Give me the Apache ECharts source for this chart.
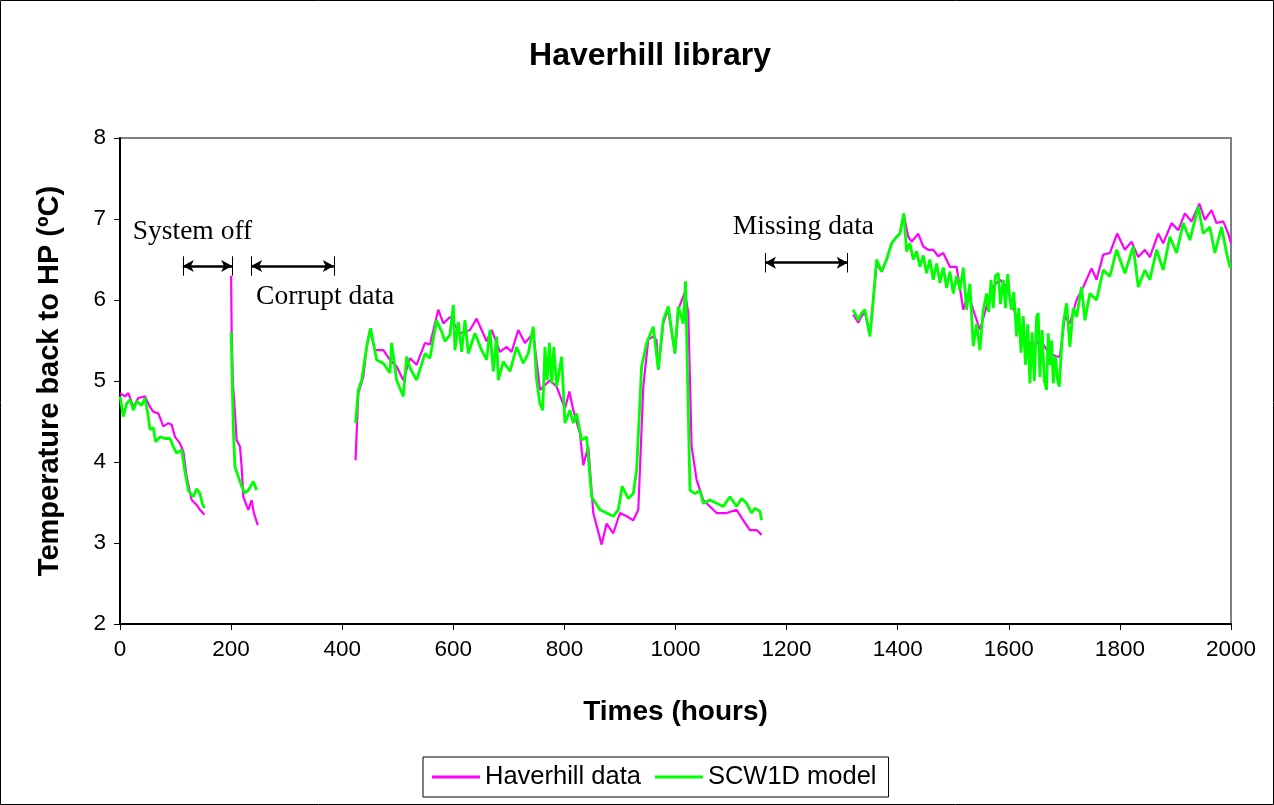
<!DOCTYPE html>
<html><head><meta charset="utf-8">
<script src="https://cdn.jsdelivr.net/npm/echarts@6/dist/echarts.min.js"></script>
<style>html,body{margin:0;padding:0;background:#fff}#c{width:1274px;height:805px}</style>
</head><body><div id="c"></div>
<script>
// ---- data ----
const xTicks = [0,200,400,600,800,1000,1200,1400,1600,1800,2000];
const yTicks = [2,3,4,5,6,7,8];

// Haverhill measured data (hours, °C); null = gap
const dataHours = [0,9,15,24,33,45,54,60,69,78,87,93,99,108,114,120,129,138,144,152,
 175,
 200,201,203,207,210,216,219,222,231,237,241,248,
 330,
 424,429,438,444,450,459,474,486,498,510,522,534,549,558,573,582,594,612,630,642,660,669,684,696,705,717,729,744,756,774,786,801,809,816,828,834,843,852,867,876,888,900,912,924,933,942,951,960,966,969,978,987,999,1005,1017,1023,1029,1038,1050,1062,1074,1092,1110,1122,1134,1146,1155,
 1240,
 1320,1329,1335,1341,1350,1356,1362,1371,1380,1389,1398,1404,1411,1419,1425,1437,1446,1455,1464,1473,1482,1494,1506,1518,1527,1536,1548,1560,1572,1584,1596,1608,1620,1632,1644,1656,1672,1686,1692,1701,1710,1722,1734,1749,1758,1770,1782,1795,1809,1821,1833,1845,1854,1869,1878,1893,1905,1917,1929,1943,1953,1965,1974,1986,1995,2000];
const dataTemps = [4.85,4.81,4.85,4.68,4.79,4.81,4.68,4.62,4.60,4.44,4.48,4.46,4.31,4.23,4.13,3.82,3.53,3.47,3.41,3.35,
 null,
 6.30,5.60,5.00,4.60,4.27,4.19,3.94,3.57,3.41,3.53,3.37,3.22,
 null,
 4.02,4.85,5.05,5.42,5.63,5.38,5.38,5.26,5.18,5.01,5.28,5.20,5.47,5.45,5.88,5.71,5.79,5.59,5.63,5.77,5.49,5.63,5.36,5.42,5.36,5.63,5.47,5.59,4.89,5.01,4.93,4.66,4.87,4.64,4.35,3.96,4.19,3.37,2.98,3.24,3.12,3.37,3.33,3.28,3.41,4.93,5.51,5.55,5.50,5.14,5.72,5.88,5.34,5.88,6.10,5.84,4.19,3.78,3.53,3.45,3.37,3.37,3.41,3.28,3.16,3.16,3.10,
 null,
 5.82,5.72,5.80,5.85,5.58,6.00,6.45,6.35,6.50,6.70,6.78,6.82,7.05,6.78,6.72,6.82,6.66,6.62,6.62,6.54,6.58,6.41,6.41,5.88,6.08,5.88,5.63,5.92,6.17,6.25,6.17,5.92,5.63,5.51,5.42,5.51,5.35,5.30,5.30,5.80,5.71,6.00,6.16,6.39,6.25,6.56,6.58,6.82,6.62,6.72,6.53,6.62,6.53,6.82,6.70,6.95,6.86,7.07,6.97,7.19,6.99,7.11,6.95,6.97,6.82,6.70];

// SCW1D model (hours, °C); null = gap
const modelHours = [0,6,12,18,24,30,39,45,50,54,60,64,72,81,90,96,102,111,117,123,132,138,144,148,152,
 175,
 200,201,204,207,213,219,225,231,240,246,
 330,
 424,429,435,444,451,462,474,486,489,498,510,516,522,534,549,558,570,579,585,594,600,603,609,615,621,627,639,651,660,666,672,678,681,690,702,714,726,735,744,750,756,761,765,769,773,777,781,786,795,801,810,816,822,831,840,849,864,876,888,897,904,915,924,930,939,948,960,969,978,987,999,1005,1014,1018,1026,1035,1044,1050,1062,1074,1086,1098,1110,1119,1128,1137,1143,1152,1155,
 1240,
 1320,1329,1335,1341,1350,1356,1362,1371,1380,1389,1398,1404,1411,1416,1422,1428,1434,1440,1446,1452,1458,1464,1470,1476,1482,1488,1494,1500,1506,1512,1518,1524,1530,1536,1542,1548,1554,1560,1564,1568,1572,1576,1581,1585,1590,1594,1598,1602,1605,1609,1614,1618,1622,1626,1630,1634,1638,1642,1646,1650,1653,1656,1660,1664,1668,1671,1674,1677,1680,1684,1688,1691,1695,1698,1704,1710,1716,1722,1731,1737,1746,1758,1770,1782,1794,1809,1824,1833,1845,1854,1866,1878,1890,1902,1914,1926,1941,1950,1962,1971,1983,1992,1998,2000];
const modelTemps = [4.81,4.56,4.72,4.77,4.64,4.75,4.70,4.79,4.60,4.40,4.42,4.25,4.31,4.29,4.29,4.19,4.11,4.15,3.88,3.65,3.57,3.67,3.61,3.49,3.43,
 null,
 5.60,5.59,4.40,3.94,3.82,3.70,3.62,3.65,3.76,3.65,
 null,
 4.48,4.89,5.01,5.42,5.65,5.26,5.22,5.10,5.47,5.01,4.81,5.30,5.16,5.01,5.34,5.28,5.75,5.61,5.49,5.57,5.94,5.38,5.73,5.36,5.75,5.34,5.59,5.38,5.26,5.63,5.12,5.55,5.01,5.24,5.12,5.42,5.22,5.34,5.67,5.01,4.72,4.64,5.42,5.01,5.47,4.97,5.42,4.93,5.30,4.48,4.64,4.48,4.60,4.27,4.31,3.57,3.41,3.37,3.33,3.41,3.70,3.55,3.61,3.90,5.18,5.47,5.67,5.14,5.75,5.92,5.34,5.92,5.71,6.23,3.65,3.61,3.65,3.49,3.53,3.49,3.45,3.57,3.45,3.55,3.49,3.37,3.43,3.39,3.28,
 null,
 5.88,5.75,5.84,5.88,5.55,6.00,6.50,6.35,6.50,6.70,6.78,6.82,7.07,6.60,6.70,6.50,6.60,6.41,6.55,6.33,6.50,6.25,6.45,6.21,6.40,6.15,6.35,6.08,6.30,6.12,6.40,5.88,6.20,5.43,5.70,5.38,5.88,6.08,5.85,6.25,5.90,6.30,6.33,5.95,6.25,5.90,6.32,6.00,5.88,6.10,5.55,5.90,5.35,5.80,5.20,5.70,4.97,5.60,5.00,5.79,5.84,5.05,5.63,5.00,4.89,5.59,5.20,5.50,4.97,5.30,5.00,4.93,5.42,5.71,5.96,5.42,5.90,5.79,6.16,5.75,6.08,6.00,6.37,6.29,6.62,6.33,6.66,6.16,6.37,6.25,6.62,6.37,6.78,6.58,6.95,6.74,7.15,6.82,6.90,6.58,6.90,6.58,6.41,6.40];

// annotations (hours, °C)
const noteTexts = ['System off','Corrupt data','Missing data'];
const noteHours = [23,245,1103];
const noteTemps = [6.84,6.04,6.91];
const spanStart = [113,236,1161];
const spanEnd = [202,385,1310];
const spanTemp = [6.42,6.42,6.46];

// ---- chart ----
const pairs = (xs, ys) => xs.map((x,i)=>[x, ys[i]]);
const chart = echarts.init(document.getElementById('c'), null, {renderer:'canvas'});
const arrowData = spanStart.map((s,i)=>[{coord:[s,spanTemp[i]]},{coord:[spanEnd[i],spanTemp[i]]}]);
const tickData = [];
spanStart.forEach((s,i)=>{
  [s, spanEnd[i]].forEach(h=>{
    tickData.push([{coord:[h,spanTemp[i]+0.12]},{coord:[h,spanTemp[i]-0.12]}]);
  });
});
const labelFont = 'Arial, "Liberation Sans", sans-serif';
chart.setOption({
  animation:false,
  title:{text:'Haverhill library', left:645, top:35, textAlign:'center',
    textStyle:{fontFamily:labelFont, fontWeight:'bold', fontSize:32, color:'#000'}},
  graphic:[{type:'rect', shape:{x:0.5,y:0.5,width:1273,height:804}, style:{fill:'none',stroke:'#000',lineWidth:1}, silent:true}],
  legend:{left:423, top:757, orient:'horizontal', data:['Haverhill data','SCW1D model'],
    icon:'rect', itemWidth:48, itemHeight:3, itemGap:14,
    borderColor:'#000', borderWidth:1, padding:[7,12,7,9],
    textStyle:{fontFamily:labelFont, fontSize:25.5, color:'#000'}},
  grid:{left:120, right:43, top:138, bottom:181, show:true, borderColor:'#808080', borderWidth:2, backgroundColor:'#fff'},
  xAxis:{type:'value', min:0, max:2000, interval:200,
    name:'Times (hours)', nameLocation:'middle', nameGap:74,
    nameTextStyle:{fontFamily:labelFont, fontWeight:'bold', fontSize:28, color:'#000'},
    axisLine:{lineStyle:{color:'#000', width:2}},
    axisTick:{inside:false, length:6, lineStyle:{color:'#000'}},
    axisLabel:{fontFamily:labelFont, fontSize:22.5, color:'#000', margin:14, formatter:v=>String(v)},
    splitLine:{show:false}},
  yAxis:{type:'value', min:2, max:8, interval:1,
    name:'Temperature back to HP (ºC)', nameLocation:'middle', nameGap:56,
    nameTextStyle:{fontFamily:labelFont, fontWeight:'bold', fontSize:29, color:'#000'},
    axisLine:{show:true, lineStyle:{color:'#000', width:2}},
    axisTick:{show:true, inside:false, length:6, lineStyle:{color:'#000'}},
    axisLabel:{fontFamily:labelFont, fontSize:22.5, color:'#000', margin:14, formatter:v=>String(v)},
    splitLine:{show:false}},
  series:[
    {name:'Haverhill data', type:'line', data:pairs(dataHours,dataTemps), showSymbol:false, symbol:'none',
      connectNulls:false, lineStyle:{color:'#FF00FF', width:2.2}, itemStyle:{color:'#FF00FF'}, z:2},
    {name:'SCW1D model', type:'line', data:pairs(modelHours,modelTemps), showSymbol:false, symbol:'none',
      connectNulls:false, lineStyle:{color:'#00FF00', width:2.8}, itemStyle:{color:'#00FF00'}, z:3},
    {name:'arrows', type:'line', data:[], silent:true, z:4,
      markLine:{silent:true, symbol:['arrow','arrow'], symbolSize:[9,11], label:{show:false},
        lineStyle:{color:'#000', width:2.5, type:'solid'}, emphasis:{disabled:true}, data:arrowData}},
    {name:'ticks', type:'line', data:[], silent:true, z:4,
      markLine:{silent:true, symbol:['none','none'], label:{show:false},
        lineStyle:{color:'#000', width:1, type:'solid'}, emphasis:{disabled:true}, data:tickData}},
    {name:'notes', type:'scatter', silent:true, symbolSize:0, z:5,
      data:noteHours.map((h,i)=>[h,noteTemps[i],noteTexts[i]]),
      itemStyle:{opacity:1},
      label:{show:true, position:'right', distance:0, formatter:p=>p.data[2], opacity:1,
        fontFamily:'"Liberation Serif", "Times New Roman", serif', fontSize:27.5, color:'#000', textBorderWidth:0}}
  ]
});
</script></body></html>
